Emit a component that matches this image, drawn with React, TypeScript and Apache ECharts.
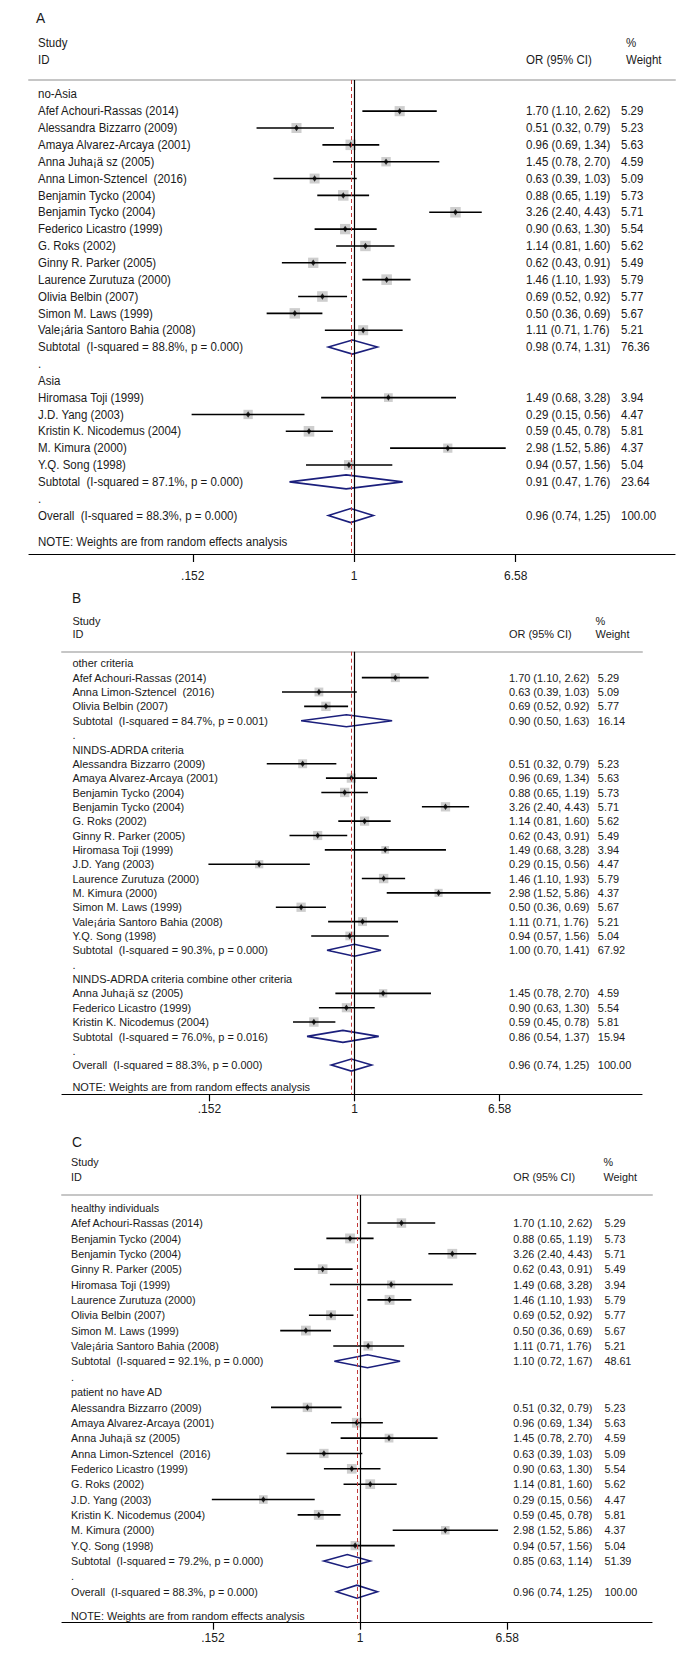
import React, { useEffect, useRef } from 'react';
import * as echarts from 'echarts';

// ---------- data ----------
const studyNames = [
  'Afef Achouri-Rassas (2014)',
  'Alessandra Bizzarro (2009)',
  'Amaya Alvarez-Arcaya (2001)',
  'Anna Juha¡ä sz (2005)',
  'Anna Limon-Sztencel  (2016)',
  'Benjamin Tycko (2004)',
  'Benjamin Tycko (2004)',
  'Federico Licastro (1999)',
  'G. Roks (2002)',
  'Ginny R. Parker (2005)',
  'Laurence Zurutuza (2000)',
  'Olivia Belbin (2007)',
  'Simon M. Laws (1999)',
  'Vale¡ária Santoro Bahia (2008)',
  'Hiromasa Toji (1999)',
  'J.D. Yang (2003)',
  'Kristin K. Nicodemus (2004)',
  'M. Kimura (2000)',
  'Y.Q. Song (1998)',
];
const studyOR = [1.70, 0.51, 0.96, 1.45, 0.63, 0.88, 3.26, 0.90, 1.14, 0.62, 1.46, 0.69, 0.50, 1.11, 1.49, 0.29, 0.59, 2.98, 0.94];
const studyLower = [1.10, 0.32, 0.69, 0.78, 0.39, 0.65, 2.40, 0.63, 0.81, 0.43, 1.10, 0.52, 0.36, 0.71, 0.68, 0.15, 0.45, 1.52, 0.57];
const studyUpper = [2.62, 0.79, 1.34, 2.70, 1.03, 1.19, 4.43, 1.30, 1.60, 0.91, 1.93, 0.92, 0.69, 1.76, 3.28, 0.56, 0.78, 5.86, 1.56];
const studyWeight = [5.29, 5.23, 5.63, 4.59, 5.09, 5.73, 5.71, 5.54, 5.62, 5.49, 5.79, 5.77, 5.67, 5.21, 3.94, 4.47, 5.81, 4.37, 5.04];

// Panel A
const groupTitlesA = ['no-Asia', 'Asia'];
const groupMembersA = [[0, 1, 2, 3, 4, 5, 6, 7, 8, 9, 10, 11, 12, 13], [14, 15, 16, 17, 18]];
const subORA = [0.98, 0.91];
const subLowerA = [0.74, 0.47];
const subUpperA = [1.31, 1.76];
const subWeightA = [76.36, 23.64];
const subI2A = [88.8, 87.1];
const subPA = ['0.000', '0.000'];

// Panel B
const groupTitlesB = ['other criteria', 'NINDS-ADRDA criteria', 'NINDS-ADRDA criteria combine other criteria'];
const groupMembersB = [[0, 4, 11], [1, 2, 5, 6, 8, 9, 14, 15, 10, 17, 12, 13, 18], [3, 7, 16]];
const subORB = [0.90, 1.00, 0.86];
const subLowerB = [0.50, 0.70, 0.54];
const subUpperB = [1.63, 1.41, 1.37];
const subWeightB = [16.14, 67.92, 15.94];
const subI2B = [84.7, 90.3, 76.0];
const subPB = ['0.001', '0.000', '0.016'];

// Panel C
const groupTitlesC = ['healthy individuals', 'patient no have AD'];
const groupMembersC = [[0, 5, 6, 9, 14, 10, 11, 12, 13], [1, 2, 3, 4, 7, 8, 15, 16, 17, 18]];
const subORC = [1.10, 0.85];
const subLowerC = [0.72, 0.63];
const subUpperC = [1.67, 1.14];
const subWeightC = [48.61, 51.39];
const subI2C = [92.1, 79.2];
const subPC = ['0.000', '0.000'];

// Overall (same in every panel)
const overallOR = 0.96;
const overallLower = 0.74;
const overallUpper = 1.25;
const overallWeight = 100.0;
const overallI2 = 88.3;
const overallP = '0.000';

const tickValues = [0.152, 1, 6.58];
const tickLabels = ['.152', '1', '6.58'];
const noteText = 'NOTE: Weights are from random effects analysis';

// ---------- layout / styles ----------
const FONT = "'Liberation Sans', Arial, Helvetica, sans-serif";
const TEXT_COLOR = '#1a1a1a';
const NAVY = '#1b1f7c';

const panels = [
  {
    letter: 'A', titles: groupTitlesA, members: groupMembersA, sOR: subORA, sLo: subLowerA, sHi: subUpperA, sW: subWeightA, sI2: subI2A, sP: subPA,
    L: { letterX: 36, letterY: 18, hdr1: 43, hdr2: 60, studyX: 38, orX: 526, wX: 621, wHdrX: 626, axisLeft: 29, axisRight: 675, sepY: 80, axisY: 554, row0: 94.3, rowH: 16.85, center: 354.2, pxPerLn: 85.7, noteY: 541.5, fs: 12.5, sx: 0.92, sqK: 4.4, dH: 7, tickLen: 8, labelMargin: 16 },
  },
  {
    letter: 'B', titles: groupTitlesB, members: groupMembersB, sOR: subORB, sLo: subLowerB, sHi: subUpperB, sW: subWeightB, sI2: subI2B, sP: subPB,
    L: { letterX: 72, letterY: 598, hdr1: 620.7, hdr2: 634, studyX: 72.4, orX: 509, wX: 597.8, wHdrX: 595.6, axisLeft: 62, axisRight: 642, sepY: 651.7, axisY: 1094.3, row0: 663.3, rowH: 14.35, center: 354.5, pxPerLn: 77, noteY: 1086.7, fs: 11.8, sx: 0.93, sqK: 3.9, dH: 6, tickLen: 7, labelMargin: 9 },
  },
  {
    letter: 'C', titles: groupTitlesC, members: groupMembersC, sOR: subORC, sLo: subLowerC, sHi: subUpperC, sW: subWeightC, sI2: subI2C, sP: subPC,
    L: { letterX: 72, letterY: 1142, hdr1: 1161.7, hdr2: 1176.7, studyX: 71, orX: 513.3, wX: 604.4, wHdrX: 603.6, axisLeft: 62, axisRight: 652, sepY: 1195, axisY: 1622.7, row0: 1207.7, rowH: 15.36, center: 360, pxPerLn: 78.1, noteY: 1615.7, fs: 11.6, sx: 0.93, sqK: 4.1, dH: 6.5, tickLen: 7, labelMargin: 9 },
  },
];

type Row = { kind: string; label: string; or?: number; lo?: number; hi?: number; w?: number; idx: number };

function buildRows(P: any): Row[] {
  const rows: Row[] = [];
  let i = 0;
  P.titles.forEach((t: string, g: number) => {
    rows.push({ kind: 'header', label: t, idx: i++ });
    P.members[g].forEach((s: number) => {
      rows.push({ kind: 'study', label: studyNames[s], or: studyOR[s], lo: studyLower[s], hi: studyUpper[s], w: studyWeight[s], idx: i++ });
    });
    rows.push({
      kind: 'sub', label: `Subtotal  (I-squared = ${P.sI2[g].toFixed(1)}%, p = ${P.sP[g]})`,
      or: P.sOR[g], lo: P.sLo[g], hi: P.sHi[g], w: P.sW[g], idx: i++,
    });
    rows.push({ kind: 'dot', label: '.', idx: i++ });
  });
  rows.push({
    kind: 'overall', label: `Overall  (I-squared = ${overallI2.toFixed(1)}%, p = ${overallP})`,
    or: overallOR, lo: overallLower, hi: overallUpper, w: overallWeight, idx: i++,
  });
  return rows;
}

const fmtCI = (r: Row) => `${r.or!.toFixed(2)} (${r.lo!.toFixed(2)}, ${r.hi!.toFixed(2)})`;

export default function App() {
  const ref = useRef<HTMLDivElement>(null);
  useEffect(() => {
    if (!ref.current) return;
    const chart = echarts.init(ref.current, null, { renderer: 'svg' });
    const tickLn = tickValues.map((v) => Math.log(v));
    const option: any = { animation: false, grid: [], xAxis: [], yAxis: [], series: [] };
    const allRows: Row[][] = [];

    panels.forEach((P, p) => {
      const L = P.L;
      const rows = buildRows(P);
      allRows.push(rows);
      const yMin = -(L.row0 - L.sepY) / L.rowH;
      const yMax = (L.axisY - L.row0) / L.rowH;
      const xMin = (L.axisLeft - L.center) / L.pxPerLn;
      const xMax = (L.axisRight - L.center) / L.pxPerLn;
      option.grid.push({ left: L.axisLeft, top: L.sepY, width: L.axisRight - L.axisLeft, height: L.axisY - L.sepY, containLabel: false });
      option.xAxis.push({
        type: 'value', gridIndex: p, min: xMin, max: xMax, position: 'bottom',
        axisLine: { show: true, onZero: false, lineStyle: { color: '#000', width: 1.2 } },
        axisTick: { show: true, length: L.tickLen, customValues: tickLn, lineStyle: { color: '#000', width: 1.2 } },
        axisLabel: {
          show: true, customValues: tickLn, margin: L.labelMargin, fontSize: 12, color: TEXT_COLOR, fontFamily: FONT,
          formatter: (v: number) => {
            const k = tickLn.findIndex((t) => Math.abs(t - v) < 1e-6);
            return k >= 0 ? tickLabels[k] : '';
          },
        },
        splitLine: { show: false },
      });
      option.xAxis.push({
        type: 'value', gridIndex: p, min: xMin, max: xMax, position: 'top',
        axisLine: { show: true, onZero: false, lineStyle: { color: '#c6c6c6', width: 2 } },
        axisTick: { show: false }, axisLabel: { show: false }, splitLine: { show: false },
      });
      option.yAxis.push({ type: 'value', gridIndex: p, inverse: true, min: yMin, max: yMax, show: false });

      const studies = rows.filter((r) => r.kind === 'study');
      const pooled = rows.filter((r) => r.kind === 'sub' || r.kind === 'overall');
      const xi = 2 * p;

      option.series.push({
        type: 'scatter', xAxisIndex: xi, yAxisIndex: p, silent: true, z: 2,
        symbol: 'rect',
        symbolSize: (v: number[]) => L.sqK * Math.sqrt(v[2]),
        itemStyle: { color: '#c2c2c2' },
        data: studies.map((r) => [Math.log(r.or!), r.idx, r.w]),
        markLine: {
          silent: true, symbol: ['none', 'none'], label: { show: false },
          data: [
            { xAxis: 0, lineStyle: { color: '#000', type: 'solid', width: 1.2 } },
            { xAxis: Math.log(overallOR), lineStyle: { color: '#c23a3a', type: [4, 3], width: 1 } },
          ],
        },
      });
      option.series.push({
        type: 'custom', xAxisIndex: xi, yAxisIndex: p, silent: true, z: 3, clip: false,
        encode: { x: [0, 1], y: 2 },
        data: studies.map((r) => [Math.log(r.lo!), Math.log(r.hi!), r.idx]),
        renderItem: (params: any, api: any) => {
          const a = api.coord([api.value(0), api.value(2)]);
          const b = api.coord([api.value(1), api.value(2)]);
          return { type: 'line', shape: { x1: a[0], y1: a[1], x2: b[0], y2: b[1] }, style: { stroke: '#000', lineWidth: 1.6 } };
        },
      });
      option.series.push({
        type: 'scatter', xAxisIndex: xi, yAxisIndex: p, silent: true, z: 4,
        symbol: 'diamond', symbolSize: [4.5, 6.5],
        itemStyle: { color: '#000' },
        data: studies.map((r) => [Math.log(r.or!), r.idx]),
      });
      option.series.push({
        type: 'custom', xAxisIndex: xi, yAxisIndex: p, silent: true, z: 3, clip: false,
        encode: { x: [0, 1, 2], y: 3 },
        data: pooled.map((r) => [Math.log(r.lo!), Math.log(r.or!), Math.log(r.hi!), r.idx]),
        renderItem: (params: any, api: any) => {
          const lo = api.coord([api.value(0), api.value(3)]);
          const est = api.coord([api.value(1), api.value(3)]);
          const hi = api.coord([api.value(2), api.value(3)]);
          return {
            type: 'polygon',
            shape: { points: [[lo[0], lo[1]], [est[0], est[1] - L.dH], [hi[0], hi[1]], [est[0], est[1] + L.dH]] },
            style: { fill: 'rgba(0,0,0,0)', stroke: NAVY, lineWidth: 1.6 },
          };
        },
      });
    });

    chart.setOption(option);

    const graphic: any[] = [];
    const txt = (x: number, y: number, text: string, fs: number, sx = 1) => ({
      type: 'text', x, y, scaleX: sx, silent: true,
      style: { text, fill: TEXT_COLOR, font: `${fs}px ${FONT}`, textAlign: 'left', textVerticalAlign: 'middle' },
    });
    panels.forEach((P, p) => {
      const L = P.L;
      graphic.push(txt(L.letterX, L.letterY, P.letter, 14.5, 0.95));
      graphic.push(txt(L.studyX, L.hdr1, 'Study', L.fs, L.sx));
      graphic.push(txt(L.studyX, L.hdr2, 'ID', L.fs, L.sx));
      graphic.push(txt(L.orX, L.hdr2, 'OR (95% CI)', L.fs, L.sx));
      graphic.push(txt(L.wHdrX, L.hdr1, '%', L.fs, L.sx));
      graphic.push(txt(L.wHdrX, L.hdr2, 'Weight', L.fs, L.sx));
      graphic.push(txt(L.studyX, L.noteY, noteText, L.fs, L.sx));
      allRows[p].forEach((r) => {
        const y = chart.convertToPixel({ yAxisIndex: p } as any, r.idx) as unknown as number;
        graphic.push(txt(L.studyX, y, r.label, L.fs, L.sx));
        if (r.kind === 'study' || r.kind === 'sub' || r.kind === 'overall') {
          graphic.push(txt(L.orX, y, fmtCI(r), L.fs, L.sx));
          graphic.push(txt(L.wX, y, r.w!.toFixed(2), L.fs, L.sx));
        }
      });
    });
    chart.setOption({ graphic });

    return () => chart.dispose();
  }, []);

  return <div ref={ref} style={{ position: 'absolute', left: 0, top: 0, width: 693, height: 1660, background: '#fff' }} />;
}
